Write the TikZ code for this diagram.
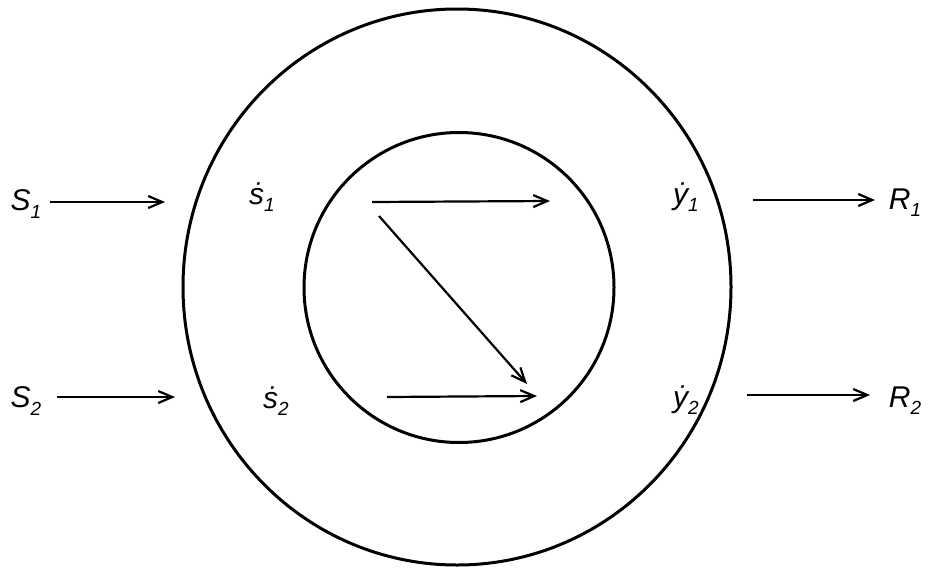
\documentclass[tikz,border=0pt]{standalone}
\usepackage{fontspec}
\setmainfont{Liberation Sans}
\usetikzlibrary{arrows.meta}
\newcommand\lsub[1]{\raisebox{-0.45ex}{\fontsize{19}{19}\selectfont #1}}
\begin{document}
\begin{tikzpicture}[x=1pt,y=-1pt,
  lbl/.style={font=\fontsize{30}{32}\selectfont\itshape, inner sep=0pt, anchor=center},
  flow/.style={line width=2.2pt, -{Straight Barb[length=14pt,width=12pt,line width=2.2pt]}},
  ring/.style={line width=3pt}]
\useasboundingbox (0,0) rectangle (934,570);
% rings
\draw[ring] (457,287) ellipse [x radius=274, y radius=278];
\draw[ring] (459,287.5) circle [radius=155];
% labels
\node[lbl] (S1) at (26,204) {S\lsub{1}};
\node[lbl] (S2) at (26,401) {S\lsub{2}};
\node[lbl] (s1) at (262,197) {\.{s}\lsub{1}};
\node[lbl] (s2) at (276,401) {\.{s}\lsub{2}};
\node[lbl] (y1) at (686,197) {\.{y}\lsub{1}};
\node[lbl] (y2) at (686,400) {\.{y}\lsub{2}};
\node[lbl] (R1) at (905,203) {R\lsub{1}};
\node[lbl] (R2) at (905,401) {R\lsub{2}};
% arrow end points
\coordinate (a1) at (50,202);  \coordinate (b1) at (165,202);
\coordinate (a2) at (57,397);  \coordinate (b2) at (175,397);
\coordinate (c1) at (372,202); \coordinate (d1) at (550,201);
\coordinate (c2) at (379,216); \coordinate (d2) at (527,384);
\coordinate (c3) at (387,397); \coordinate (d3) at (537,396);
\coordinate (e1) at (753,200); \coordinate (f1) at (875,200);
\coordinate (e2) at (747,395); \coordinate (f2) at (870,395);
\draw[flow] (a1) -- (b1);
\draw[flow] (a2) -- (b2);
\draw[flow] (c1) -- (d1);
\draw[flow] (c2) -- (d2);
\draw[flow] (c3) -- (d3);
\draw[flow] (e1) -- (f1);
\draw[flow] (e2) -- (f2);
\end{tikzpicture}
\end{document}
